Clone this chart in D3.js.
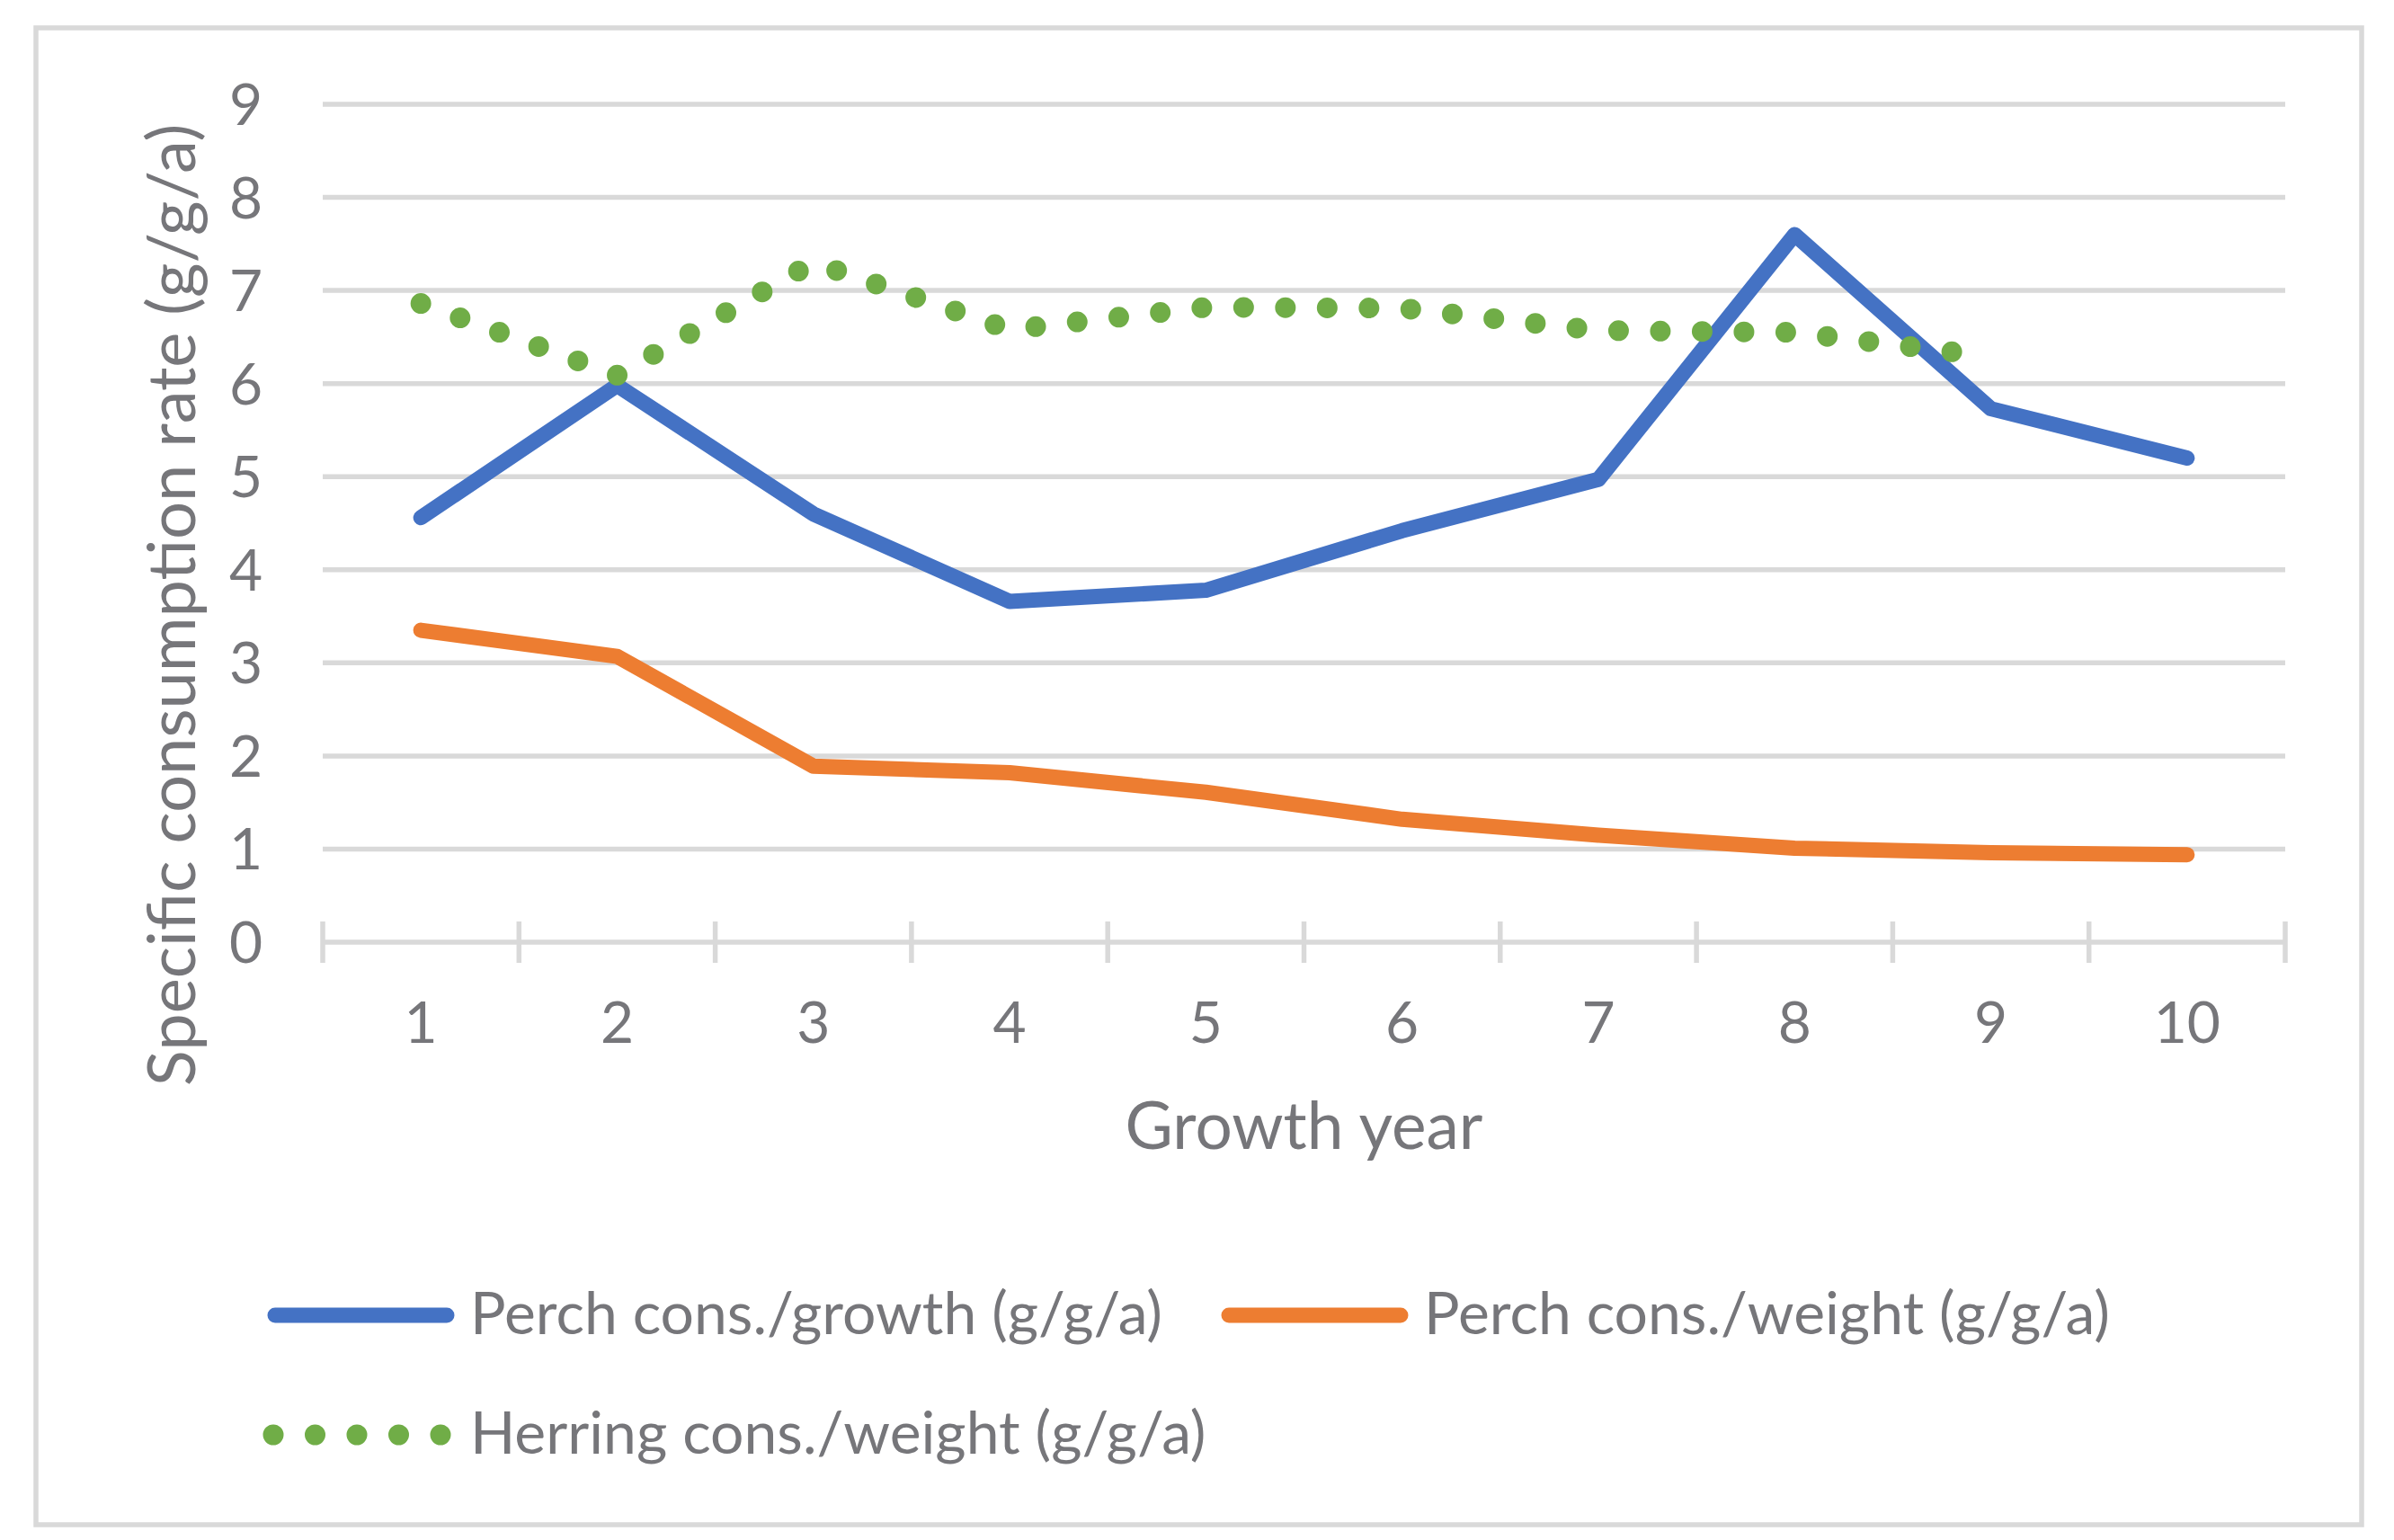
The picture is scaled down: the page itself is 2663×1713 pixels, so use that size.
<!DOCTYPE html>
<html>
<head>
<meta charset="utf-8">
<script src="https://cdn.jsdelivr.net/npm/d3@7"></script>
<style>
  html, body { margin: 0; padding: 0; background: #fff; }
  text { font-family: Lato, "Open Sans", sans-serif; fill: #76767a; }
</style>
</head>
<body>
<div id="chart"></div>
<script>
const width = 2663;
const height = 1713;

// data
const years = [1, 2, 3, 4, 5, 6, 7, 8, 9, 10];
const perchGrowth = [4.56, 5.98, 4.60, 3.66, 3.78, 4.42, 4.97, 7.60, 5.73, 5.20];
const perchWeight = [3.35, 3.07, 1.89, 1.82, 1.61, 1.32, 1.15, 1.01, 0.96, 0.94];
const herringWeight = [6.86, 6.09, 7.30, 6.58, 6.82, 6.81, 6.57, 6.55, 6.29];
const yTicks = [0, 1, 2, 3, 4, 5, 6, 7, 8, 9];

const series = [
  { name: "Perch cons./growth (g/g/a)", values: perchGrowth, color: "#4472C4", dotted: false },
  { name: "Perch cons./weight (g/g/a)", values: perchWeight, color: "#ED7D31", dotted: false },
  { name: "Herring cons./weight (g/g/a)", values: herringWeight, color: "#70AD47", dotted: true }
];

const grid = "#D9D9D9";

const svg = d3.select("#chart")
  .append("svg")
  .attr("width", width)
  .attr("height", height);

svg.append("rect")
  .attr("width", width).attr("height", height)
  .attr("fill", "#fff");

// chart border
svg.append("rect")
  .attr("x", 40).attr("y", 31)
  .attr("width", 2587).attr("height", 1665)
  .attr("fill", "none")
  .attr("stroke", grid)
  .attr("stroke-width", 5.5);

const x = d3.scaleBand()
  .domain(years)
  .range([359, 2542]);

const y = d3.scaleLinear()
  .domain([0, 9])
  .range([1048, 116]);

const cx = d => x(d) + x.bandwidth() / 2;

// gridlines
svg.append("g")
  .selectAll("line")
  .data(yTicks.filter(t => t > 0))
  .join("line")
  .attr("x1", x.range()[0])
  .attr("x2", x.range()[1])
  .attr("y1", d => y(d))
  .attr("y2", d => y(d))
  .attr("stroke", grid)
  .attr("stroke-width", 5.5);

// x axis line with crossing ticks at category boundaries
const xAxis = svg.append("g");
xAxis.append("line")
  .attr("x1", x.range()[0])
  .attr("x2", x.range()[1])
  .attr("y1", y(0))
  .attr("y2", y(0))
  .attr("stroke", grid)
  .attr("stroke-width", 5.5);

const bounds = years.map(d => x(d)).concat([x.range()[1]]);
xAxis.selectAll(".tick")
  .data(bounds)
  .join("line")
  .attr("class", "tick")
  .attr("x1", d => d).attr("x2", d => d)
  .attr("y1", y(0) - 23).attr("y2", y(0) + 23)
  .attr("stroke", grid)
  .attr("stroke-width", 5.5);

xAxis.selectAll("text")
  .data(years)
  .join("text")
  .attr("x", d => cx(d))
  .attr("y", 1160)
  .attr("text-anchor", "middle")
  .attr("font-size", 64)
  .text(d => d);

// y tick labels
svg.append("g")
  .selectAll("text")
  .data(yTicks)
  .join("text")
  .attr("x", 292)
  .attr("y", d => y(d))
  .attr("dy", "0.36em")
  .attr("text-anchor", "end")
  .attr("font-size", 64)
  .text(d => d);

// axis titles
svg.append("text")
  .attr("x", (x.range()[0] + x.range()[1]) / 2)
  .attr("y", 1278)
  .attr("text-anchor", "middle")
  .attr("font-size", 73)
  .text("Growth year");

svg.append("text")
  .attr("transform", "translate(217,673) rotate(-90)")
  .attr("text-anchor", "middle")
  .attr("font-size", 74)
  .text("Specific consumption rate (g/g/a)");

// series lines
const line = d3.line()
  .x((d, i) => cx(years[i]))
  .y(d => y(d));

const styleLine = (sel, s) => {
  sel.attr("fill", "none")
    .attr("stroke", s.color)
    .attr("stroke-linecap", "round")
    .attr("stroke-linejoin", "round");
  if (s.dotted) {
    sel.attr("stroke-width", 23).attr("stroke-dasharray", "0 46.5");
  } else {
    sel.attr("stroke-width", 17);
  }
};

series.forEach(s => {
  svg.append("path")
    .datum(s.values)
    .attr("d", line)
    .call(styleLine, s);
});

// legend
const legendPos = [
  { x: 297, y: 1463 },
  { x: 1358, y: 1463 },
  { x: 297, y: 1596 }
];

const legend = svg.append("g");
series.forEach((s, i) => {
  const p = legendPos[i];
  const g = legend.append("g").attr("transform", `translate(${p.x},${p.y})`);
  if (s.dotted) {
    g.append("line")
      .attr("x1", 7).attr("x2", 195)
      .attr("y1", 0).attr("y2", 0)
      .call(styleLine, s);
  } else {
    g.append("line")
      .attr("x1", 9).attr("x2", 200)
      .attr("y1", 0).attr("y2", 0)
      .call(styleLine, s);
  }
  g.append("text")
    .attr("x", 226)
    .attr("y", 21)
    .attr("font-size", 66)
    .text(s.name);
});
</script>
</body>
</html>
